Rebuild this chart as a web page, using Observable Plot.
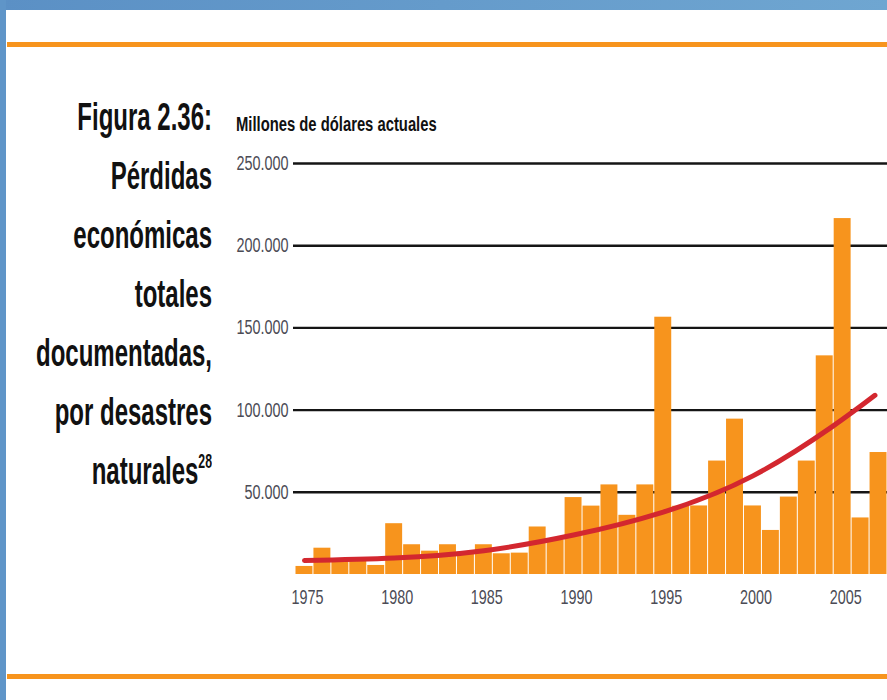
<!DOCTYPE html>
<html>
<head>
<meta charset="utf-8">
<script src="https://cdn.jsdelivr.net/npm/d3@7"></script>
<script src="https://cdn.jsdelivr.net/npm/@observablehq/plot@0.6"></script>
<style>
  html, body { margin: 0; padding: 0; background: #fff; }
  #page { position: relative; width: 887px; height: 700px; overflow: hidden; background: #fff; }
  #topband { position: absolute; left: 0; top: 0; width: 887px; height: 10px; background: linear-gradient(to right, #5b90c5, #6fa6d1); }
  #leftband { position: absolute; left: 0; top: 0; width: 6px; height: 700px; background: #5f95c8; }
  .orule { position: absolute; left: 7px; width: 880px; height: 5px; background: #f7941d; }
  #title { position: absolute; left: -188px; top: 87px; width: 400px; text-align: right;
    font-family: "Liberation Sans", Arial, sans-serif; font-weight: bold;
    font-size: 39px; line-height: 59px; color: #111; transform: scaleX(0.615); transform-origin: right top; white-space: nowrap; }
  #title sup { font-size: 20px; vertical-align: 0; position: relative; top: -16px; }
  #subtitle { position: absolute; left: 236px; top: 113px; font-family: "Liberation Sans", Arial, sans-serif;
    font-weight: bold; font-size: 20px; color: #111; white-space: nowrap; transform: scaleX(0.74); transform-origin: left top; }
  #chart { position: absolute; left: 220px; top: 140px; }
</style>
</head>
<body>
<div id="page">
  <div id="topband"></div>
  <div id="leftband"></div>
  <div class="orule" style="top:42px"></div>
  <div class="orule" style="top:674px"></div>
  <div id="title">Figura 2.36:<br>Pérdidas<br>económicas<br>totales<br>documentadas,<br>por desastres<br>naturales<sup>28</sup></div>
  <div id="subtitle">Millones de dólares actuales</div>
  <div id="chart"></div>
</div>
<script>
const years = [1975,1976,1977,1978,1979,1980,1981,1982,1983,1984,1985,1986,1987,1988,1989,1990,
  1991,1992,1993,1994,1995,1996,1997,1998,1999,2000,2001,2002,2003,2004,2005,2006,2007];
const losses = [4900,16000,8500,10000,5500,30900,18100,14200,18100,13600,18100,12600,13000,28900,21000,46800,
  41600,54500,36000,54500,156500,41500,41700,69000,94500,41700,26800,47100,69000,133000,216500,34400,74200];
const trendYears = [1975,1980,1985,1990,1995,2000,2004.4,2006.8];
const trendValues = [8500,10000,14500,24000,38000,60000,89800,109000];
const yTicks = [50000,100000,150000,200000,250000];
const xTicks = [1975,1980,1985,1990,1995,2000,2005];

const bars = years.map((y, i) => ({year: y, value: losses[i]}));
const trend = trendYears.map((y, i) => ({year: y, value: trendValues[i]}));
const fmt = d3.formatLocale({decimal: ",", thousands: ".", grouping: [3]}).format(",");

const chart = Plot.plot({
  width: 667,
  height: 470,
  marginLeft: 75,
  marginRight: 0,
  marginTop: 23,
  marginBottom: 36,
  style: {fontFamily: "'Liberation Sans', Arial, sans-serif", fontSize: "20px", color: "#4b4b55", background: "transparent"},
  x: {domain: [1974.5, 2007.5]},
  y: {domain: [0, 250000]},
  marks: [
    Plot.ruleY(yTicks, {y: d => d, stroke: "#151515", strokeWidth: 2.4, insetLeft: -2}),
    Plot.rectY(bars, {x1: d => d.year - 0.5, x2: d => d.year + 0.5, y: "value", fill: "#f7941d", insetLeft: 0.5, insetRight: 0.5}),
    Plot.line(trend, {x: "year", y: "value", curve: "natural", stroke: "#d3272f", strokeWidth: 5, strokeLinecap: "round"}),
    Plot.axisX({ticks: xTicks, tickFormat: d => String(d), tickSize: 0, tickPadding: 15, dx: 3, label: null, fontSize: 21}),
    Plot.axisY({ticks: yTicks, tickFormat: fmt, tickSize: 0, tickPadding: 7, label: null, fontSize: 20})
  ]
});
document.getElementById("chart").appendChild(chart);
// condense tick labels horizontally to mimic a condensed typeface
chart.querySelectorAll("g[aria-label='x-axis tick label'] text").forEach(t => {
  t.setAttribute("textLength", (t.getComputedTextLength() * 0.686).toFixed(1));
  t.setAttribute("lengthAdjust", "spacingAndGlyphs");
});
chart.querySelectorAll("g[aria-label='y-axis tick label'] text").forEach(t => {
  t.setAttribute("textLength", (t.getComputedTextLength() * 0.72).toFixed(1));
  t.setAttribute("lengthAdjust", "spacingAndGlyphs");
});
</script>
</body>
</html>
